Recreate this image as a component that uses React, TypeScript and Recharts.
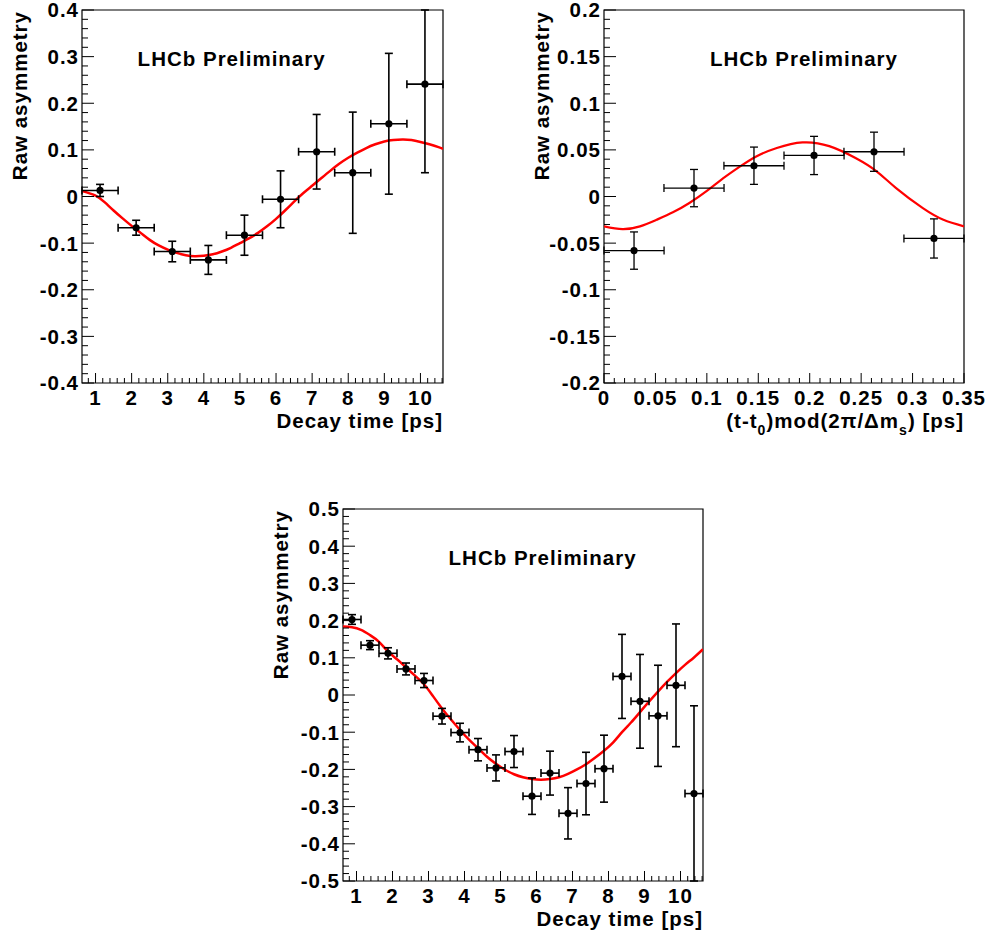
import React from 'react';
import {
  ComposedChart,
  XAxis,
  YAxis,
  Scatter,
  Line,
  ErrorBar,
  ReferenceArea,
  ReferenceDot,
} from 'recharts';

const FONT = '"Liberation Sans", Arial, Helvetica, sans-serif';

// ---------------- Panel 1: decay time (1 ps bins) ----------------
const p1Time = [1.125, 2.125, 3.125, 4.125, 5.125, 6.125, 7.125, 8.125, 9.125, 10.125];
const p1Asym = [0.013, -0.067, -0.118, -0.136, -0.083, -0.006, 0.096, 0.051, 0.156, 0.241];
const p1ErrLow = [0.013, 0.016, 0.022, 0.031, 0.043, 0.061, 0.08, 0.13, 0.151, 0.19];
// upper error of the last bin runs off the top of the frame
const p1ErrHigh = [0.013, 0.016, 0.022, 0.031, 0.043, 0.061, 0.08, 0.13, 0.151, 0.159];
const p1HalfBin = [0.5, 0.5, 0.5, 0.5, 0.5, 0.5, 0.5, 0.5, 0.5, 0.5];
const p1FitTime = [
  0.625, 1.0, 1.25, 1.5, 1.75, 2.0, 2.25, 2.5, 2.75, 3.0, 3.25, 3.5, 3.75, 4.0, 4.25, 4.5, 4.75,
  5.0, 5.25, 5.5, 5.75, 6.0, 6.25, 6.5, 6.75, 7.0, 7.25, 7.5, 7.75, 8.0, 8.25, 8.5, 8.75, 9.0,
  9.25, 9.5, 9.75, 10.0, 10.25, 10.5, 10.625,
];
const p1FitAsym = [
  0.012, 0.002, -0.012, -0.03, -0.047, -0.063, -0.078, -0.093, -0.105, -0.114, -0.121, -0.126,
  -0.128, -0.127, -0.124, -0.118, -0.11, -0.1, -0.09, -0.078, -0.064, -0.048, -0.03, -0.011,
  0.007, 0.023, 0.039, 0.055, 0.07, 0.083, 0.094, 0.104, 0.112, 0.118, 0.121, 0.122, 0.121,
  0.117, 0.112, 0.106, 0.102,
];
const p1XMajor = [1, 2, 3, 4, 5, 6, 7, 8, 9, 10];
const p1XLabels = ['1', '2', '3', '4', '5', '6', '7', '8', '9', '10'];
const p1YMajor = [-0.4, -0.3, -0.2, -0.1, 0, 0.1, 0.2, 0.3, 0.4];
const p1YLabels = ['-0.4', '-0.3', '-0.2', '-0.1', '0', '0.1', '0.2', '0.3', '0.4'];

// ---------------- Panel 2: folded time ----------------
const p2Time = [0.0292, 0.0875, 0.1458, 0.2042, 0.2625, 0.3208];
const p2Asym = [-0.058, 0.009, 0.033, 0.044, 0.048, -0.045];
const p2ErrLow = [0.02, 0.02, 0.02, 0.0205, 0.021, 0.021];
const p2ErrHigh = [0.02, 0.02, 0.02, 0.0205, 0.021, 0.021];
const p2HalfBin = [0.0292, 0.0292, 0.0292, 0.0292, 0.0292, 0.0292];
const p2FitTime = [
  0, 0.018, 0.035, 0.051, 0.067, 0.083, 0.1, 0.116, 0.132, 0.148, 0.168, 0.193, 0.219, 0.245,
  0.265, 0.284, 0.31, 0.33, 0.35,
];
const p2FitAsym = [
  -0.032, -0.035, -0.032, -0.025, -0.017, -0.007, 0.006, 0.0196, 0.032, 0.043, 0.052, 0.058,
  0.054, 0.041, 0.027, 0.009, -0.0125, -0.025, -0.032,
];
const p2XMajor = [0, 0.05, 0.1, 0.15, 0.2, 0.25, 0.3, 0.35];
const p2XLabels = ['0', '0.05', '0.1', '0.15', '0.2', '0.25', '0.3', '0.35'];
const p2YMajor = [-0.2, -0.15, -0.1, -0.05, 0, 0.05, 0.1, 0.15, 0.2];
const p2YLabels = ['-0.2', '-0.15', '-0.1', '-0.05', '0', '0.05', '0.1', '0.15', '0.2'];

// ---------------- Panel 3: decay time (0.5 ps bins) ----------------
const p3Time = [
  0.875, 1.375, 1.875, 2.375, 2.875, 3.375, 3.875, 4.375, 4.875, 5.375, 5.875, 6.375, 6.875,
  7.375, 7.875, 8.375, 8.875, 9.375, 9.875, 10.375,
];
const p3Asym = [
  0.203, 0.134, 0.112, 0.07, 0.039, -0.057, -0.101, -0.147, -0.196, -0.152, -0.272, -0.21,
  -0.318, -0.238, -0.198, 0.05, -0.017, -0.056, 0.026, -0.265,
];
const p3ErrHigh = [
  0.013, 0.012, 0.015, 0.016, 0.019, 0.021, 0.025, 0.03, 0.035, 0.043, 0.049, 0.059, 0.069,
  0.084, 0.09, 0.113, 0.126, 0.136, 0.165, 0.236,
];
// lower error of the last bin reaches the bottom of the frame
const p3ErrLow = [
  0.013, 0.012, 0.015, 0.016, 0.019, 0.021, 0.025, 0.03, 0.035, 0.043, 0.049, 0.059, 0.069,
  0.084, 0.09, 0.113, 0.126, 0.136, 0.165, 0.235,
];
const p3HalfBin = [
  0.25, 0.25, 0.25, 0.25, 0.25, 0.25, 0.25, 0.25, 0.25, 0.25, 0.25, 0.25, 0.25, 0.25, 0.25,
  0.25, 0.25, 0.25, 0.25, 0.25,
];
const p3FitTime = [
  0.625, 0.875, 1.125, 1.375, 1.625, 1.875, 2.125, 2.375, 2.625, 2.875, 3.125, 3.375, 3.625,
  3.875, 4.125, 4.375, 4.625, 4.875, 5.125, 5.375, 5.625, 5.875, 6.125, 6.375, 6.625, 6.875,
  7.125, 7.375, 7.625, 7.875, 8.125, 8.375, 8.625, 8.875, 9.125, 9.375, 9.625, 9.875, 10.125,
  10.375, 10.625,
];
const p3FitAsym = [
  0.184, 0.182, 0.175, 0.161, 0.143, 0.117, 0.096, 0.074, 0.052, 0.029, -0.003, -0.036, -0.066,
  -0.094, -0.12, -0.143, -0.166, -0.185, -0.201, -0.213, -0.221, -0.226, -0.228, -0.226,
  -0.221, -0.212, -0.2, -0.186, -0.169, -0.15, -0.128, -0.1, -0.074, -0.046, -0.018, 0.009,
  0.035, 0.059, 0.081, 0.101, 0.123,
];
const p3XMajor = p1XMajor;
const p3XLabels = p1XLabels;
const p3YMajor = [-0.5, -0.4, -0.3, -0.2, -0.1, 0, 0.1, 0.2, 0.3, 0.4, 0.5];
const p3YLabels = ['-0.5', '-0.4', '-0.3', '-0.2', '-0.1', '0', '0.1', '0.2', '0.3', '0.4', '0.5'];

const TITLE_Y = 'Raw asymmetry';
const TITLE_X_TIME = 'Decay time [ps]';
const TAG = 'LHCb Preliminary';

// tick positions (minor subdivisions) within a domain
function subTicks(lo: number, hi: number, step: number): number[] {
  const out: number[] = [];
  const start = Math.ceil(lo / step - 1e-9);
  const end = Math.floor(hi / step + 1e-9);
  for (let k = start; k <= end; k++) out.push(Math.round(k * step * 100000) / 100000);
  return out;
}

function labelFor(v: number, majors: number[], labels: string[]): string | null {
  const i = majors.findIndex((m) => Math.abs(m - v) < 1e-7);
  return i >= 0 ? labels[i] : null;
}

const textStyle = {
  fontFamily: FONT,
  fontWeight: 700 as const,
  fontSize: 20.5,
  letterSpacing: 1.0,
  fill: '#000',
};

type PanelProps = {
  left: number;
  top: number;
  width: number;
  height: number;
  margin: { top: number; right: number; bottom: number; left: number };
  xDomain: [number, number];
  yDomain: [number, number];
  xMinorStep: number;
  yMinorStep: number;
  xMajor: number[];
  xLabels: string[];
  yMajor: number[];
  yLabels: string[];
  time: number[];
  asym: number[];
  errLow: number[];
  errHigh: number[];
  halfBin: number[];
  fitTime: number[];
  fitAsym: number[];
  tagX: number;
  tagY: number;
  xTitle: React.ReactNode;
  lineW: number;
  barW: number;
};

function Panel(p: PanelProps) {
  const points = p.time.map((t, i) => ({
    x: t,
    y: p.asym[i],
    ey: [p.errLow[i], p.errHigh[i]],
    ex: p.halfBin[i],
  }));
  const fit = p.fitTime.map((t, i) => ({ x: t, y: p.fitAsym[i] }));
  const xTicks = subTicks(p.xDomain[0], p.xDomain[1], p.xMinorStep);
  const yTicks = subTicks(p.yDomain[0], p.yDomain[1], p.yMinorStep);

  const yTick = (tp: any) => {
    const { y, payload } = tp;
    const x = tp.x;
    const lab = labelFor(payload.value, p.yMajor, p.yLabels);
    const len = lab !== null ? 12 : 6;
    return (
      <g key={`yt-${payload.value}`}>
        <line x1={x} x2={x + len} y1={y} y2={y} stroke="#000" strokeWidth={1} />
        {lab !== null && (
          <text x={x - 3} y={y} dy="0.36em" textAnchor="end" style={textStyle}>
            {lab}
          </text>
        )}
      </g>
    );
  };
  const xTick = (tp: any) => {
    const { x, y, payload } = tp;
    const lab = labelFor(payload.value, p.xMajor, p.xLabels);
    const len = lab !== null ? 10 : 5;
    return (
      <g key={`xt-${payload.value}`}>
        <line x1={x} x2={x} y1={y} y2={y - len} stroke="#000" strokeWidth={1} />
        {lab !== null && (
          <text x={x} y={y + 21.5} textAnchor="middle" style={textStyle}>
            {lab}
          </text>
        )}
      </g>
    );
  };

  return (
    <div style={{ position: 'absolute', left: p.left, top: p.top }}>
      <ComposedChart
        width={p.width}
        height={p.height}
        margin={{
          top: p.margin.top,
          right: p.margin.right,
          bottom: p.margin.bottom - 1,
          left: p.margin.left - 1,
        }}
      >
        <XAxis
          type="number"
          dataKey="x"
          domain={p.xDomain}
          allowDataOverflow
          ticks={xTicks}
          interval={0}
          height={1}
          tickSize={0}
          tickMargin={0}
          axisLine={false}
          tickLine={false}
          tick={xTick}
          label={{
            content: (lp: any) => {
              const vb = lp.viewBox;
              return (
                <text x={vb.x + vb.width} y={vb.y + 44.5} textAnchor="end" style={textStyle}>
                  {p.xTitle}
                </text>
              );
            },
          }}
        />
        <YAxis
          type="number"
          dataKey="y"
          domain={p.yDomain}
          allowDataOverflow
          ticks={yTicks}
          interval={0}
          width={1}
          tickSize={0}
          tickMargin={0}
          axisLine={false}
          tickLine={false}
          tick={yTick}
          label={{
            content: (lp: any) => {
              const vb = lp.viewBox;
              const tx = vb.x + vb.width - 55;
              const ty = vb.y + 1;
              return (
                <text
                  x={tx}
                  y={ty}
                  transform={`rotate(-90 ${tx} ${ty})`}
                  textAnchor="end"
                  style={textStyle}
                >
                  {TITLE_Y}
                </text>
              );
            },
          }}
        />
        <ReferenceArea
          x1={p.xDomain[0]}
          x2={p.xDomain[1]}
          y1={p.yDomain[0]}
          y2={p.yDomain[1]}
          fill="none"
          fillOpacity={0}
          stroke="#000"
          strokeWidth={1.2}
        />
        <Line
          data={fit}
          dataKey="y"
          type="natural"
          stroke="#ff0000"
          strokeWidth={p.lineW}
          dot={false}
          activeDot={false}
          isAnimationActive={false}
        />
        <Scatter
          data={points}
          dataKey="y"
          isAnimationActive={false}
          shape={(sp: any) => <circle cx={sp.cx} cy={sp.cy} r={3.6} fill="#000" />}
        >
          <ErrorBar dataKey="ey" direction="y" width={4} stroke="#000" strokeWidth={p.barW} isAnimationActive={false} />
          <ErrorBar dataKey="ex" direction="x" width={4} stroke="#000" strokeWidth={p.barW} isAnimationActive={false} />
        </Scatter>
        <ReferenceDot
          x={p.tagX}
          y={p.tagY}
          r={0}
          shape={(sp: any) => (
            <text x={sp.cx} y={sp.cy} textAnchor="middle" style={textStyle}>
              {TAG}
            </text>
          )}
        />
      </ComposedChart>
    </div>
  );
}

const foldedTitle = (
  <>
    <tspan>(t-t</tspan>
    <tspan fontSize={14} dy={7}>0</tspan>
    <tspan dy={-7}>)mod(2π/Δm</tspan>
    <tspan fontSize={14} dy={7}>s</tspan>
    <tspan dy={-7}>) [ps]</tspan>
  </>
);

export default function App() {
  return (
    <div
      style={{
        position: 'absolute',
        left: 0,
        top: 0,
        width: 985,
        height: 941,
        background: '#fff',
        overflow: 'hidden',
      }}
    >
      <Panel
        left={0}
        top={0}
        width={460}
        height={440}
        margin={{ top: 10, right: 17, bottom: 57, left: 82 }}
        xDomain={[0.625, 10.625]}
        yDomain={[-0.4, 0.4]}
        xMinorStep={0.2}
        yMinorStep={0.02}
        xMajor={p1XMajor}
        xLabels={p1XLabels}
        yMajor={p1YMajor}
        yLabels={p1YLabels}
        time={p1Time}
        asym={p1Asym}
        errLow={p1ErrLow}
        errHigh={p1ErrHigh}
        halfBin={p1HalfBin}
        fitTime={p1FitTime}
        fitAsym={p1FitAsym}
        tagX={4.77}
        tagY={0.28}
        xTitle={TITLE_X_TIME}
        lineW={2.5}
        barW={1.6}
      />
      <Panel
        left={520}
        top={0}
        width={465}
        height={440}
        margin={{ top: 10, right: 21, bottom: 57, left: 84 }}
        xDomain={[0, 0.35]}
        yDomain={[-0.2, 0.2]}
        xMinorStep={0.01}
        yMinorStep={0.01}
        xMajor={p2XMajor}
        xLabels={p2XLabels}
        yMajor={p2YMajor}
        yLabels={p2YLabels}
        time={p2Time}
        asym={p2Asym}
        errLow={p2ErrLow}
        errHigh={p2ErrHigh}
        halfBin={p2HalfBin}
        fitTime={p2FitTime}
        fitAsym={p2FitAsym}
        tagX={0.1944}
        tagY={0.14}
        xTitle={foldedTitle}
        lineW={2.2}
        barW={1.3}
      />
      <Panel
        left={260}
        top={490}
        width={460}
        height={451}
        margin={{ top: 19, right: 17, bottom: 60, left: 83 }}
        xDomain={[0.625, 10.625]}
        yDomain={[-0.5, 0.5]}
        xMinorStep={0.2}
        yMinorStep={0.02}
        xMajor={p3XMajor}
        xLabels={p3XLabels}
        yMajor={p3YMajor}
        yLabels={p3YLabels}
        time={p3Time}
        asym={p3Asym}
        errLow={p3ErrLow}
        errHigh={p3ErrHigh}
        halfBin={p3HalfBin}
        fitTime={p3FitTime}
        fitAsym={p3FitAsym}
        tagX={6.17}
        tagY={0.35}
        xTitle={TITLE_X_TIME}
        lineW={2.5}
        barW={1.6}
      />
    </div>
  );
}
